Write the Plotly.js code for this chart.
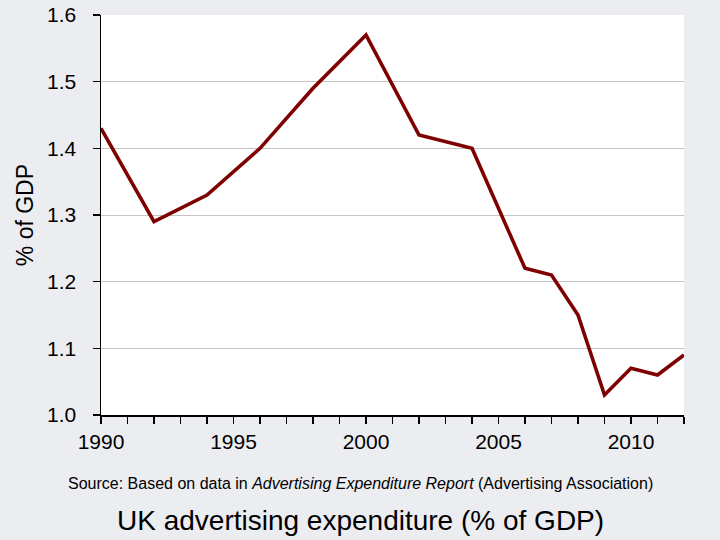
<!DOCTYPE html>
<html>
<head>
<meta charset="utf-8">
<script src="https://cdn.plot.ly/plotly-3.0.1.min.js"></script>
<style>
  html, body { margin: 0; padding: 0; background: #ECEDF1; }
  #chart { width: 720px; height: 540px; }
</style>
</head>
<body>
<div id="chart"></div>
<script>
// UK advertising expenditure, % of GDP
const years = [1990, 1992, 1994, 1996, 1998, 2000, 2002, 2004, 2006, 2007, 2008, 2009, 2010, 2011, 2012];
const share = [1.43, 1.29, 1.33, 1.40, 1.49, 1.57, 1.42, 1.40, 1.22, 1.21, 1.15, 1.03, 1.07, 1.06, 1.09];
const yTicks = [1.0, 1.1, 1.2, 1.3, 1.4, 1.5, 1.6];
const xTicks = [1990, 1995, 2000, 2005, 2010];

const font = "Liberation Sans, Arial, sans-serif";

const trace = {
    type: "scatter",
    mode: "lines",
    x: years,
    y: share,
    line: {color: "#7F0000", width: 3.6},
    hoverinfo: "x+y",
};

const layout = {
    width: 720,
    height: 540,
    margin: {l: 101, r: 36, t: 15, b: 125},
    paper_bgcolor: "#ECEDF1",
    plot_bgcolor: "#FFFFFF",
    showlegend: false,
    font: {family: font, size: 21, color: "#000000"},
    xaxis: {
        range: [1990, 2012],
        tickvals: xTicks,
        ticktext: xTicks.map(String),
        ticks: "outside",
        ticklen: 7,
        tickwidth: 1.5,
        tickcolor: "#000000",
        minor: {dtick: 1, tick0: 1990, ticks: "outside", ticklen: 7, tickwidth: 1.5, tickcolor: "#000000", showgrid: false},
        showgrid: false,
        zeroline: false,
        showline: true,
        linecolor: "#000000",
        linewidth: 1.5,
        tickfont: {family: font, size: 21, color: "#000000"},
        fixedrange: true,
    },
    yaxis: {
        range: [1.0, 1.6],
        tickvals: yTicks,
        tickformat: ".1f",
        ticks: "outside",
        ticklen: 7,
        tickwidth: 1.5,
        tickcolor: "#000000",
        ticklabelstandoff: 12,
        showgrid: true,
        gridcolor: "#C4C4C4",
        gridwidth: 1,
        zeroline: false,
        showline: true,
        linecolor: "#000000",
        linewidth: 1.5,
        tickfont: {family: font, size: 21, color: "#000000"},
        fixedrange: true,
    },
    annotations: [
        {
            text: "% of GDP",
            xref: "paper", yref: "paper",
            x: -0.130, y: 0.5,
            xanchor: "center", yanchor: "middle",
            textangle: -90,
            showarrow: false,
            font: {family: font, size: 23, color: "#000000"},
        },
        {
            text: "Source: Based on data in <i>Advertising Expenditure Report</i> (Advertising Association)",
            xref: "paper", yref: "paper",
            x: 0.445, y: -0.1725,
            xanchor: "center", yanchor: "middle",
            showarrow: false,
            font: {family: font, size: 16, color: "#000000"},
        },
        {
            text: "UK advertising expenditure (% of GDP)",
            xref: "paper", yref: "paper",
            x: 0.445, y: -0.2625,
            xanchor: "center", yanchor: "middle",
            showarrow: false,
            font: {family: font, size: 28, color: "#000000"},
        },
    ],
};

Plotly.newPlot("chart", [trace], layout, {displayModeBar: false, staticPlot: true});
</script>
</body>
</html>
